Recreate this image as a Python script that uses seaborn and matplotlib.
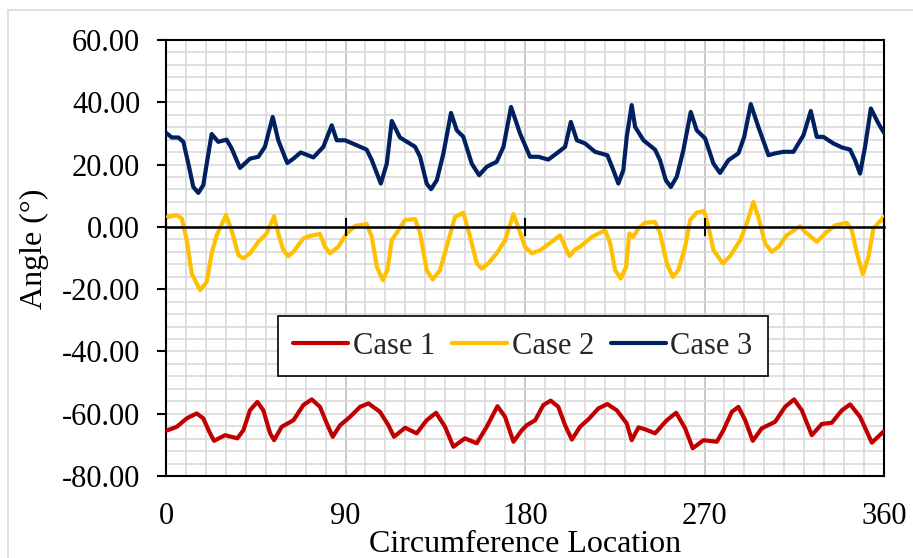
import numpy as np
import pandas as pd
import seaborn as sns
import matplotlib.pyplot as plt
from matplotlib.ticker import MultipleLocator, FormatStrFormatter
from matplotlib.patches import Rectangle

# values
case1_x = [0, 5.4, 10.4, 15.4, 18.7, 21.7, 24.1, 29.6, 35.8, 38.8, 42.1, 45.8, 48.8, 52.2, 54.2,
           58.0, 63.9, 68.9, 73.1, 77.2, 80.6, 83.6, 87.3, 92.3, 97.3, 101.5, 107.3, 111.5, 114.3,
           119.9, 125.7, 130.7, 135.4, 139.9, 144.1, 149.9, 155.8, 160.8, 166.2, 170.0, 174.2,
           178.4, 180.9, 185.1, 189.2, 192.9, 196.7, 200.1, 203.5, 207.6, 211.8, 216.8, 221.3,
           226.0, 231.0, 233.5, 236.9, 240.2, 245.2, 251.1, 255.8, 260.3, 264.1, 269.5, 276.2,
           279.5, 283.7, 287.0, 290.4, 294.2, 298.7, 305.4, 310.4, 314.9, 318.8, 323.8, 328.8,
           333.8, 338.9, 343.0, 348.0, 353.9, 360]
case1_y = [-65.5, -64.2, -61.5, -59.9, -61.5, -65.8, -68.7, -66.9, -67.9, -65.3, -58.9, -56.2,
           -58.9, -66.3, -68.5, -64.2, -62.1, -57.2, -55.4, -57.8, -63.1, -67.4, -63.7, -61.0,
           -57.8, -56.7, -59.4, -63.7, -67.4, -64.5, -66.3, -62.1, -59.7, -64.2, -70.6, -67.9,
           -69.5, -64.2, -57.6, -61.0, -69.0, -65.3, -63.7, -62.1, -57.2, -55.8, -57.8, -63.7,
           -68.3, -64.2, -61.8, -58.3, -56.9, -58.9, -63.1, -68.5, -64.4, -65.0, -66.3, -62.1,
           -59.7, -64.7, -71.1, -68.5, -69.0, -65.3, -59.4, -57.8, -62.1, -68.7, -64.7, -62.6,
           -57.8, -55.4, -58.9, -66.9, -63.3, -62.9, -58.9, -57.0, -61.0, -69.3, -65.6]

case2_x = [0, 5.4, 7.9, 10.4, 12.9, 17.1, 20.4, 22.9, 25.4, 30.1, 32.9, 36.3, 38.8, 42.1, 46.3,
           50.5, 54.2, 56.3, 58.8, 61.3, 63.9, 68.9, 72.2, 77.2, 79.7, 82.2, 86.4, 90.6, 94.8,
           100.6, 103.2, 105.7, 108.7, 111.0, 113.2, 116.5, 119.9, 124.9, 127.4, 130.7, 133.7,
           137.4, 141.6, 144.9, 149.1, 152.5, 155.8, 158.3, 161.6, 165.8, 170.0, 174.2, 176.8,
           180.0, 183.4, 187.6, 193.4, 197.6, 200.1, 202.3, 205.1, 207.6, 213.5, 220.2, 222.7,
           225.2, 228.0, 230.7, 232.3, 234.3, 236.9, 240.2, 245.2, 247.7, 251.1, 254.1, 256.9,
           260.3, 262.8, 266.1, 269.8, 272.0, 274.5, 279.2, 282.8, 287.9, 291.2, 294.5, 297.0,
           300.4, 303.7, 307.1, 311.2, 317.9, 320.4, 323.0, 326.3, 330.5, 335.5, 341.4, 343.9,
           346.4, 349.4, 352.2, 354.7, 360]
case2_y = [3.0, 3.8, 2.7, -4.3, -15.0, -20.3, -17.7, -8.5, -2.7, 3.8, -1.1, -9.1, -10.1, -8.5,
           -4.8, -2.1, 3.4, -2.1, -7.5, -9.4, -8.0, -3.7, -2.9, -2.3, -6.4, -8.5, -6.4, -2.1, 0.3,
           0.9, -3.2, -12.8, -17.1, -13.9, -4.3, -1.1, 2.2, 2.5, -2.1, -13.9, -16.9, -13.9, -4.3,
           3.2, 4.5, -3.2, -11.7, -13.4, -11.7, -8.5, -4.3, 4.1, -0.5, -6.4, -8.5, -7.5, -4.8,
           -2.7, -6.4, -9.4, -7.3, -6.4, -3.2, -1.1, -5.3, -13.9, -16.6, -12.8, -2.1, -3.2, -0.5,
           1.3, 1.6, -2.1, -11.7, -16.1, -13.9, -6.4, 2.2, 4.6, 5.1, 0.0, -7.5, -11.7, -9.4, -4.3,
           1.1, 8.0, 3.2, -5.3, -8.0, -6.4, -2.7, 0.2, -1.6, -3.0, -4.8, -2.1, 0.5, 1.3, -1.1,
           -8.5, -15.2, -9.6, -0.5, 3.2]

case3_x = [0, 2.9, 6.2, 8.7, 11.2, 13.7, 16.2, 18.7, 20.7, 22.9, 26.2, 30.4, 32.9, 37.1, 42.1,
           46.3, 49.6, 53.5, 56.3, 60.8, 63.9, 67.5, 73.9, 78.9, 83.1, 85.6, 89.8, 95.6, 100.6,
           103.2, 107.7, 110.7, 113.2, 117.3, 124.9, 127.4, 130.7, 132.9, 135.8, 139.1, 142.9,
           145.8, 149.1, 153.3, 157.0, 160.8, 165.8, 169.2, 173.0, 177.5, 182.5, 186.7, 191.7,
           195.9, 200.1, 203.0, 206.0, 210.1, 215.1, 221.3, 224.3, 226.8, 229.3, 231.0, 233.5,
           235.2, 239.4, 245.2, 247.7, 250.6, 253.1, 256.1, 259.4, 263.1, 266.1, 270.3, 274.5,
           277.8, 282.0, 287.0, 289.9, 293.2, 297.0, 302.1, 305.4, 309.6, 314.6, 319.6, 323.3,
           326.3, 329.6, 334.6, 338.9, 343.0, 345.5, 348.0, 350.5, 353.4, 357.2, 360]
case3_y = [30.2, 28.7, 28.7, 27.3, 20.3, 12.8, 10.9, 13.4, 21.4, 29.8, 27.3, 28.0, 25.2, 18.9,
           21.9, 22.5, 25.7, 35.3, 27.8, 20.5, 21.9, 23.9, 22.3, 25.7, 32.6, 27.8, 27.8, 26.2,
           24.8, 21.4, 13.9, 20.3, 34.0, 28.7, 25.7, 22.5, 13.9, 12.1, 15.0, 23.6, 36.6, 31.0,
           28.9, 20.3, 16.6, 19.3, 20.9, 25.7, 38.5, 30.0, 22.5, 22.5, 21.6, 23.6, 25.7, 33.7,
           27.8, 26.8, 24.1, 23.0, 18.2, 13.9, 18.2, 28.9, 39.1, 32.1, 27.8, 24.8, 21.4, 15.0,
           12.8, 16.1, 24.6, 36.9, 31.0, 28.4, 20.3, 17.3, 21.4, 23.6, 28.9, 39.4, 32.1, 23.0,
           23.6, 24.1, 24.1, 29.4, 37.2, 28.9, 28.9, 26.8, 25.5, 24.8, 21.4, 17.1, 25.7, 38.0,
           33.2, 30.2]

case_names = ["Case 1", "Case 2", "Case 3"]
case_colors = ["#C00000", "#FFC000", "#002060"]
x_ticks = [0, 90, 180, 270, 360]

df = pd.concat([
    pd.DataFrame({"loc": case1_x, "angle": case1_y, "case": "Case 1"}),
    pd.DataFrame({"loc": case2_x, "angle": case2_y, "case": "Case 2"}),
    pd.DataFrame({"loc": case3_x, "angle": case3_y, "case": "Case 3"}),
])

sns.set_theme(style="white")
plt.rcParams['font.family'] = ['Liberation Serif', 'DejaVu Serif']

fig = plt.figure(figsize=(9.13, 5.58), dpi=100)
rect = [166 / 913, 82 / 558, 718 / 913, 436 / 558]
ax = fig.add_axes(rect)

# light chart-area border like the spreadsheet export
fig.patches.append(Rectangle((8 / 913, -0.1), 1.1, (548 / 558) + 0.1, transform=fig.transFigure,
                             fill=False, edgecolor="#d9d9d9", linewidth=1.2, zorder=0))

sns.lineplot(data=df, x="loc", y="angle", hue="case", hue_order=case_names,
             palette=case_colors, linewidth=3, estimator=None, ax=ax,
             solid_joinstyle="round", solid_capstyle="round", zorder=3)

ax.set_xlim(0, 360)
ax.set_ylim(-80, 60)
ax.xaxis.set_major_locator(MultipleLocator(90))
ax.xaxis.set_minor_locator(MultipleLocator(10))
ax.yaxis.set_major_locator(MultipleLocator(20))
ax.yaxis.set_minor_locator(MultipleLocator(4))
ax.yaxis.set_major_formatter(FormatStrFormatter("%.2f"))

ax.grid(True, which="minor", color="#d9d9d9", linewidth=1.2)
ax.yaxis.grid(True, which="major", color="#d9d9d9", linewidth=1.2)
ax.xaxis.grid(True, which="major", color="#bfbfbf", linewidth=1.2)
ax.set_axisbelow(True)

for s in ax.spines.values():
    s.set_visible(True)
    s.set_color("black")
    s.set_linewidth(1.5)

ax.tick_params(axis="x", which="both", length=0, labelsize=22, pad=19, labelcolor="black")
ax.tick_params(axis="y", which="major", direction="out", length=6.5, width=1.5,
               color="black", labelsize=22, pad=12, labelcolor="black", left=True)
ax.tick_params(axis="y", which="minor", length=0)

ax.set_xlabel("Circumference Location", fontsize=23, color="black")
ax.set_ylabel("Angle (°)", fontsize=23, color="black")
ax.xaxis.set_label_coords(0.5, -0.123)
ax.yaxis.set_label_coords(-0.163, 0.52)

leg = ax.legend(ncol=3, loc="center", bbox_to_anchor=(0.497, 0.298), fontsize=22,
                frameon=True, fancybox=False, framealpha=1, edgecolor="black",
                handlelength=1.8, handletextpad=0.15, columnspacing=0.55, borderpad=0.5)
leg.get_frame().set_linewidth(1.2)
for line in leg.get_lines():
    line.set_linewidth(3)

# overlay axes: the category axis crosses at zero, with ticks straddling it
ax0 = fig.add_axes(rect, facecolor="none")
ax0.set_xlim(ax.get_xlim())
ax0.set_ylim(ax.get_ylim())
for name, s in ax0.spines.items():
    s.set_visible(name == "bottom")
ax0.spines["bottom"].set_position(("data", 0))
ax0.spines["bottom"].set_color("black")
ax0.spines["bottom"].set_linewidth(1.8)
ax0.set_xticks(x_ticks)
ax0.set_yticks([])
ax0.tick_params(axis="x", which="major", direction="inout", length=13, width=1.5,
                color="black", bottom=True, labelbottom=False)
ax0.tick_params(axis="x", which="minor", length=0)
ax0.grid(False)

fig.savefig("out.png", dpi=100)
